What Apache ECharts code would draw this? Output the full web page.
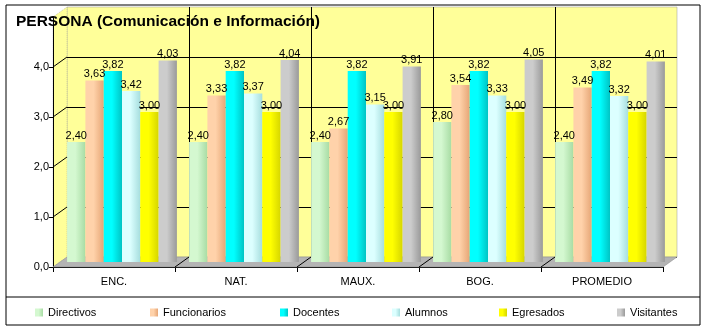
<!DOCTYPE html>
<html>
<head>
<meta charset="utf-8">
<title>PERSONA (Comunicación e Información)</title>
<script src="https://cdn.jsdelivr.net/npm/echarts@6/dist/echarts.min.js"></script>
<style>
  html, body { margin: 0; padding: 0; background: #ffffff; }
  #chart { width: 708px; height: 331px; }
</style>
</head>
<body>
<div id="chart"></div>
<script>
// Categories and survey averages per group
const categories = ['ENC.', 'NAT.', 'MAUX.', 'BOG.', 'PROMEDIO'];
const directivos   = [2.40, 2.40, 2.40, 2.80, 2.40];
const funcionarios = [3.63, 3.33, 2.67, 3.54, 3.49];
const docentes     = [3.82, 3.82, 3.82, 3.82, 3.82];
const alumnos      = [3.42, 3.37, 3.15, 3.33, 3.32];
const egresados    = [3.00, 3.00, 3.00, 3.00, 3.00];
const visitantes   = [4.03, 4.04, 3.91, 4.05, 4.01];
const yTicks = [0, 1, 2, 3, 4, 5];

const FONT = '"Liberation Sans", Arial, sans-serif';

// Pseudo-3D layout: front plane, middle (bars), back wall
const W = 610, H = 250;             // plot size
const FRONT = { left: 53, top: 17 };
const DX = 14, DY = 10;             // depth offset of the back wall
const BACK = { left: FRONT.left + DX, top: FRONT.top - DY };
const MID = { left: FRONT.left + DX / 2 + 1, top: FRONT.top - DY / 2 };

function shade(a, b) {
  return {
    type: 'linear', x: 0, y: 0, x2: 1, y2: 0,
    colorStops: [{ offset: 0, color: a }, { offset: 0.45, color: a }, { offset: 1, color: b }]
  };
}

const seriesDefs = [
  { name: 'Directivos',   data: directivos,   color: shade('#d4f8d0', '#a8dca4') },
  { name: 'Funcionarios', data: funcionarios, color: shade('#ffd2aa', '#e6a676') },
  { name: 'Docentes',     data: docentes,     color: shade('#00ffff', '#00c4c4') },
  { name: 'Alumnos',      data: alumnos,      color: shade('#dcffff', '#a6dede') },
  { name: 'Egresados',    data: egresados,    color: shade('#ffff00', '#d6d600') },
  { name: 'Visitantes',   data: visitantes,   color: shade('#cccccc', '#9a9a9a') }
];

const legendX = [30, 145, 275, 387, 494, 612];

const fmt1 = v => v.toFixed(1).replace('.', ',');
const fmt2 = v => v.toFixed(2).replace('.', ',');

// Decorative walls: left side wall, floor, diagonal depth lines
const x0 = FRONT.left, y0 = FRONT.top + H, yTop = FRONT.top;
const graphics = [
  { type: 'rect', z: -10, shape: { x: 6, y: 5, width: 694, height: 320 },
    style: { fill: '#ffffff', stroke: '#000000', lineWidth: 1 } },
  { type: 'line', z: 50, shape: { x1: 6, y1: 297, x2: 700, y2: 297 },
    style: { stroke: '#000000', lineWidth: 1 } },
  { type: 'polygon', z: 0,
    shape: { points: [[x0, y0], [x0 + DX, y0 - DY], [x0 + DX, yTop - DY], [x0, yTop]] },
    style: { fill: '#ffff99', stroke: '#999999', lineWidth: 0.5, lineDash: [1, 1] } },
  { type: 'polygon', z: 1,
    shape: { points: [[x0, y0], [x0 + W, y0], [x0 + W + DX, y0 - DY], [x0 + DX, y0 - DY]] },
    style: { fill: '#b4b4b4', stroke: '#888888', lineWidth: 0.5 } }
];
yTicks.forEach(t => {
  const y = y0 - t * (H / 5);
  if (t > 0 && t < 5) {
    graphics.push({ type: 'line', z: 1, shape: { x1: x0, y1: y, x2: x0 + DX, y2: y - DY },
      style: { stroke: '#000000', lineWidth: 1 } });
  }
});
for (let i = 1; i < categories.length; i++) {
  const x = x0 + i * W / categories.length;
  graphics.push({ type: 'line', z: 1, shape: { x1: x, y1: y0, x2: x + DX, y2: y0 - DY },
    style: { stroke: '#000000', lineWidth: 1 } });
}

const option = {
  animation: false,
  backgroundColor: '#ffffff',
  title: {
    text: 'PERSONA (Comunicación e Información)',
    left: 11, top: 9,
    textStyle: { fontFamily: FONT, fontSize: 15.5, fontWeight: 'bold', color: '#000000' }
  },
  graphic: graphics,
  legend: seriesDefs.map((s, i) => ({
    data: [s.name],
    left: legendX[i], top: 302,
    itemWidth: 8, itemHeight: 8, itemGap: 0,
    icon: 'rect',
    textStyle: { fontFamily: FONT, fontSize: 11, color: '#000000' },
    selectedMode: false
  })),
  grid: [
    { left: BACK.left, top: BACK.top, width: W, height: H, show: true,
      backgroundColor: '#ffff99', borderColor: '#999999', borderWidth: 0.5 },
    { left: FRONT.left, top: FRONT.top, width: W, height: H },
    { left: MID.left, top: MID.top, width: W, height: H }
  ],
  xAxis: [
    { gridIndex: 0, type: 'category', data: categories,
      axisLine: { show: false }, axisTick: { show: false }, axisLabel: { show: false },
      splitLine: { show: true, showMinLine: false, showMaxLine: false,
        lineStyle: { color: '#000000', width: 1 } } },
    { gridIndex: 1, type: 'category', data: categories,
      axisLine: { show: true, lineStyle: { color: '#000000', width: 1 } },
      axisTick: { show: true, length: 5, lineStyle: { color: '#000000' } },
      axisLabel: { fontFamily: FONT, fontSize: 11, color: '#000000', margin: 9 },
      splitLine: { show: false } },
    { gridIndex: 2, type: 'category', data: categories, show: false }
  ],
  yAxis: [
    { gridIndex: 0, type: 'value', min: 0, max: 5, interval: 1,
      axisLine: { show: false }, axisTick: { show: false }, axisLabel: { show: false },
      splitLine: { show: true, showMaxLine: false,
        lineStyle: { color: '#000000', width: 1 } } },
    { gridIndex: 1, type: 'value', min: 0, max: 5, interval: 1,
      axisLine: { show: true, lineStyle: { color: '#000000', width: 1 } },
      axisTick: { show: true, length: 4, lineStyle: { color: '#000000' } },
      axisLabel: { fontFamily: FONT, fontSize: 11, color: '#000000', margin: 4,
        formatter: v => (v === 5 ? '' : fmt1(v)) },
      splitLine: { show: false } },
    { gridIndex: 2, type: 'value', min: 0, max: 5, interval: 1, show: false }
  ],
  series: seriesDefs.map(s => ({
    name: s.name,
    type: 'bar',
    xAxisIndex: 2, yAxisIndex: 2,
    data: s.data,
    barGap: '0%',
    barCategoryGap: '10%',
    z: 5,
    itemStyle: { color: s.color },
    label: {
      show: true, position: 'top', distance: 1,
      fontFamily: FONT, fontSize: 11, color: '#000000',
      formatter: p => fmt2(p.value)
    }
  }))
};

const chart = echarts.init(document.getElementById('chart'), null, { renderer: 'canvas' });
chart.setOption(option);
</script>
</body>
</html>
